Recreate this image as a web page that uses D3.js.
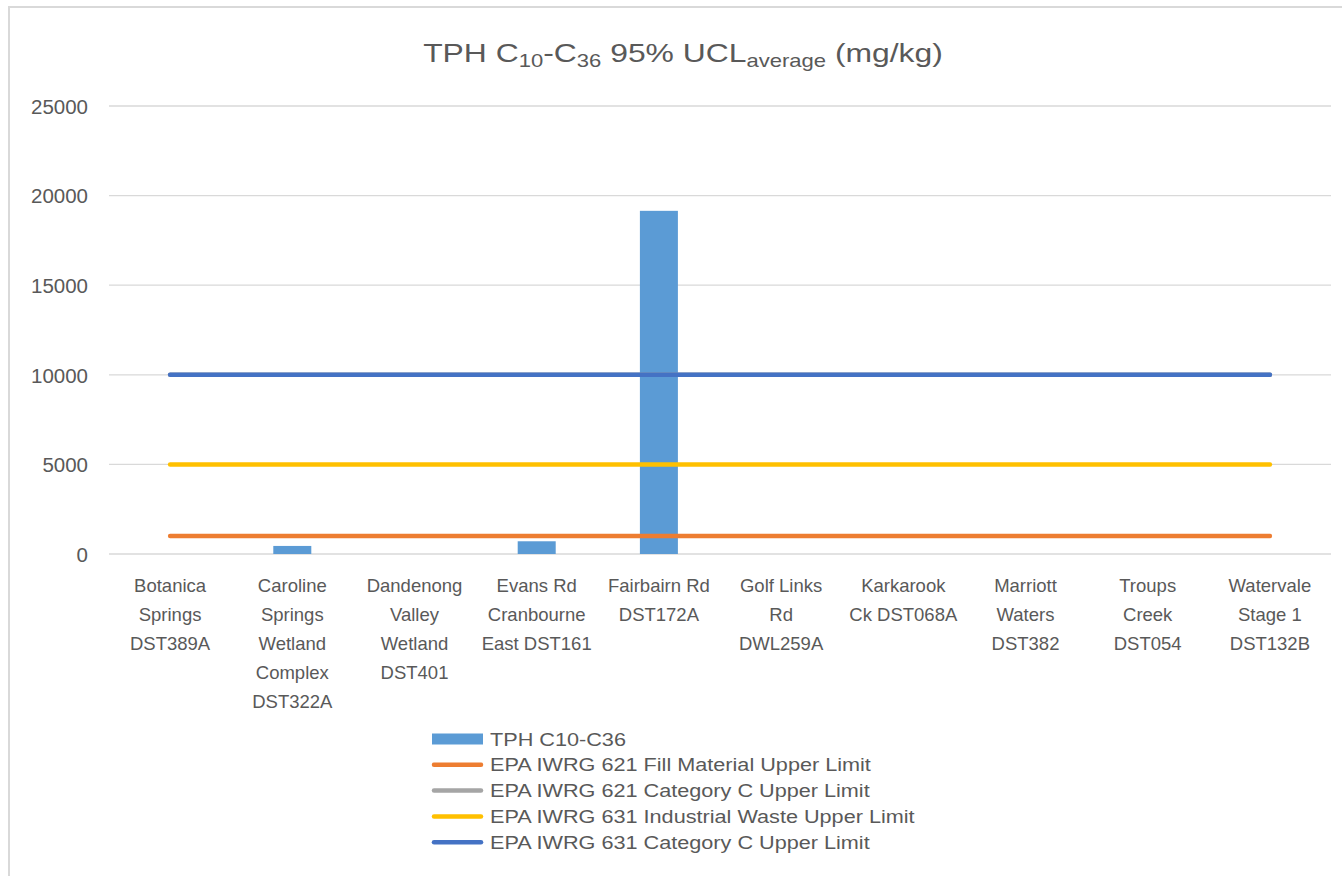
<!DOCTYPE html>
<html>
<head>
<meta charset="utf-8">
<script src="https://cdn.jsdelivr.net/npm/d3@7"></script>
<style>
html,body{margin:0;padding:0;background:#fff;}
svg{display:block;}
text{font-family:"Liberation Sans","DejaVu Sans",sans-serif;fill:#595959;}
</style>
</head>
<body>
<svg id="chart" width="1342" height="876"></svg>
<script>
const categories = [
  "Botanica\nSprings\nDST389A",
  "Caroline\nSprings\nWetland\nComplex\nDST322A",
  "Dandenong\nValley\nWetland\nDST401",
  "Evans Rd\nCranbourne\nEast DST161",
  "Fairbairn Rd\nDST172A",
  "Golf Links\nRd\nDWL259A",
  "Karkarook\nCk DST068A",
  "Marriott\nWaters\nDST382",
  "Troups\nCreek\nDST054",
  "Watervale\nStage 1\nDST132B"
];
const tphValues = [0, 450, 0, 710, 19150, 0, 0, 0, 0, 0];
const fillMaterialLimit = [1000,1000,1000,1000,1000,1000,1000,1000,1000,1000];
const cat621Limit = [10000,10000,10000,10000,10000,10000,10000,10000,10000,10000];
const industrialWasteLimit = [5000,5000,5000,5000,5000,5000,5000,5000,5000,5000];
const cat631Limit = [10000,10000,10000,10000,10000,10000,10000,10000,10000,10000];
const yTicks = [0, 5000, 10000, 15000, 20000, 25000];
const seriesNames = [
  "TPH C10-C36",
  "EPA IWRG 621 Fill Material Upper Limit",
  "EPA IWRG 621 Category C Upper Limit",
  "EPA IWRG 631 Industrial Waste Upper Limit",
  "EPA IWRG 631 Category C Upper Limit"
];
const seriesColors = ["#5B9BD5", "#ED7D31", "#A5A5A5", "#FFC000", "#4472C4"];

const svg = d3.select("#chart");

// chart frame
svg.append("rect").attr("x", 9).attr("y", 7).attr("width", 1345).attr("height", 880)
  .attr("fill", "none").attr("stroke", "#d9d9d9").attr("stroke-width", 2);

const plot = {left: 109, right: 1331, top: 106, bottom: 554};

const x = d3.scaleBand().domain(d3.range(categories.length))
  .range([plot.left, plot.right]).paddingInner(0).paddingOuter(0);
const y = d3.scaleLinear().domain([0, 25000]).range([plot.bottom, plot.top]);

// gridlines
svg.append("g").selectAll("line").data(yTicks).join("line")
  .attr("x1", plot.left).attr("x2", plot.right)
  .attr("y1", d => y(d)).attr("y2", d => y(d))
  .attr("stroke", "#d9d9d9").attr("stroke-width", 1.3);

// y axis via d3.axisLeft
const yAxis = d3.axisLeft(y).tickValues(yTicks).tickSize(0).tickPadding(21)
  .tickFormat(d3.format("d"));
const yg = svg.append("g").attr("transform", `translate(${plot.left},0)`).call(yAxis);
yg.select(".domain").remove();
yg.selectAll("text").style("font-size", "20.5px").attr("fill", "#595959")
  .style("font-family", '"Liberation Sans", sans-serif').attr("dy", "0.36em");

// bars
const barW = 38;
svg.append("g").selectAll("rect").data(tphValues).join("rect")
  .attr("x", (d, i) => x(i) + x.bandwidth() / 2 - barW / 2)
  .attr("width", barW)
  .attr("y", d => y(d))
  .attr("height", d => y(0) - y(d))
  .attr("fill", seriesColors[0]);

// limit lines
const lineGen = d3.line()
  .x((d, i) => x(i) + x.bandwidth() / 2)
  .y(d => y(d));
[fillMaterialLimit, cat621Limit, industrialWasteLimit, cat631Limit].forEach((arr, k) => {
  svg.append("path").datum(arr).attr("d", lineGen)
    .attr("fill", "none").attr("stroke", seriesColors[k + 1])
    .attr("stroke-width", 4.5).attr("stroke-linecap", "round");
});

// category labels
const xg = svg.append("g");
categories.forEach((c, i) => {
  const t = xg.append("text").attr("text-anchor", "middle")
    .attr("x", x(i) + x.bandwidth() / 2).attr("y", 592)
    .style("font-size", "18.5px");
  c.split("\n").forEach((ln, j) => {
    t.append("tspan").attr("x", x(i) + x.bandwidth() / 2)
      .attr("dy", j === 0 ? 0 : 29).text(ln);
  });
});

// title (horizontally stretched to match reference width)
const tg = svg.append("g");
const title = tg.append("text").attr("x", 0).attr("y", 62)
  .attr("text-anchor", "middle").style("font-size", "26px");
title.append("tspan").text("TPH C");
title.append("tspan").text("10").style("font-size", "18px").attr("dy", 5);
title.append("tspan").text("-C").attr("dy", -5);
title.append("tspan").text("36").style("font-size", "18px").attr("dy", 5);
title.append("tspan").text(" 95% UCL").attr("dy", -5);
title.append("tspan").text("average").style("font-size", "18px").attr("dy", 5);
title.append("tspan").text(" (mg/kg)").attr("dy", -5);
const tw = title.node().getBBox().width;
tg.attr("transform", `translate(683,0) scale(${520 / tw},1)`);

// legend
const lg = svg.append("g");
const legendTexts = [];
seriesNames.forEach((name, i) => {
  const cy = 739 + i * 25.8;
  if (i === 0) {
    lg.append("rect").attr("x", 432).attr("y", cy - 5.5).attr("width", 51).attr("height", 11)
      .attr("fill", seriesColors[0]);
  } else {
    lg.append("line").attr("x1", 434).attr("x2", 481).attr("y1", cy).attr("y2", cy)
      .attr("stroke", seriesColors[i]).attr("stroke-width", 4.5).attr("stroke-linecap", "round");
  }
  const t = lg.append("text").attr("x", 0).attr("y", 0).attr("dy", "0.36em")
    .style("font-size", "18.5px").text(name);
  legendTexts.push({t, cy});
});
const maxW = d3.max(legendTexts, d => d.t.node().getBBox().width);
const ls = 425 / maxW;
legendTexts.forEach(d => d.t.attr("transform", `translate(490,${d.cy}) scale(${ls},1)`));
</script>
</body>
</html>
